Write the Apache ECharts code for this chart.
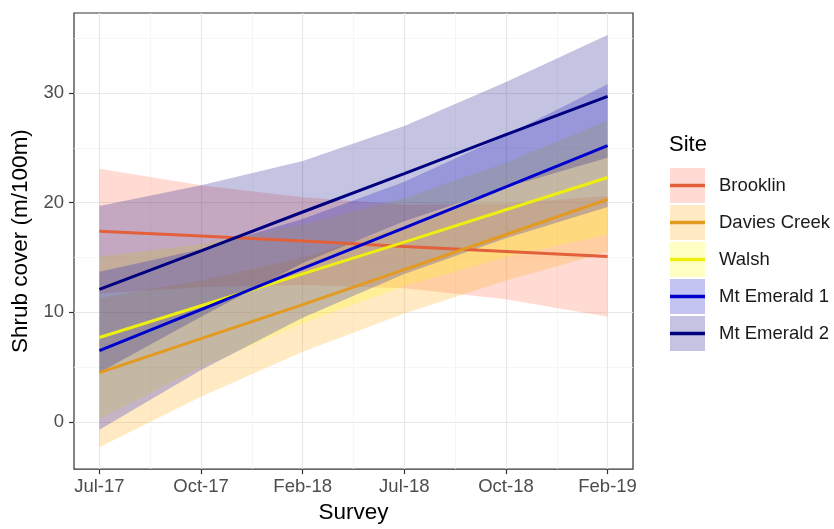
<!DOCTYPE html>
<html>
<head>
<meta charset="utf-8">
<script src="https://cdn.jsdelivr.net/npm/echarts@6/dist/echarts.min.js"></script>
<style>
  html, body { margin: 0; padding: 0; background: #fff; }
  #chart { width: 834px; height: 529px; }
</style>
</head>
<body>
<div id="chart"></div>
<script>
const surveys = ['Jul-17', 'Oct-17', 'Feb-18', 'Jul-18', 'Oct-18', 'Feb-19'];
const surveyX = [1, 2, 3, 4, 5, 6];
const xMinor = [1.5, 2.5, 3.5, 4.5, 5.5];
const yMajor = [0, 10, 20, 30];
const yMinor = [5, 15, 25, 35];

const sites = ['Brooklin', 'Davies Creek', 'Walsh', 'Mt Emerald 1', 'Mt Emerald 2'];
const lineColors = ['#e2603a', '#e39a20', '#eeee10', '#0000cd', '#000080'];
const bandColors = [
  'rgba(255,99,71,0.23)',
  'rgba(255,165,0,0.23)',
  'rgba(255,255,0,0.23)',
  'rgba(0,0,205,0.23)',
  'rgba(0,0,128,0.23)',
];

// fitted shrub cover and confidence band per site
const brooklinFit = [17.4, 16.95, 16.5, 16.0, 15.55, 15.1];
const brooklinLow = [11.7, 12.3, 12.5, 12.2, 11.2, 9.6];
const brooklinHigh = [23.1, 21.6, 20.5, 19.8, 19.9, 20.6];

const daviesFit = [4.5, 7.6, 10.7, 13.9, 17.1, 20.3];
const daviesLow = [-2.3, 2.3, 6.4, 9.9, 12.9, 15.5];
const daviesHigh = [11.3, 12.9, 15.0, 17.9, 21.3, 25.1];

const walshFit = [7.7, 10.6, 13.5, 16.4, 19.35, 22.3];
const walshLow = [0.3, 5.0, 9.0, 12.4, 15.05, 17.1];
const walshHigh = [15.1, 16.2, 18.0, 20.4, 23.65, 27.5];

const emerald1Fit = [6.5, 10.25, 14.0, 17.7, 21.45, 25.2];
const emerald1Low = [-0.7, 4.75, 9.5, 13.5, 16.75, 19.6];
const emerald1High = [13.7, 15.75, 18.5, 21.9, 26.15, 30.8];

const emerald2Fit = [12.1, 15.6, 19.15, 22.65, 26.2, 29.7];
const emerald2Low = [4.5, 9.6, 14.5, 18.3, 21.4, 24.1];
const emerald2High = [19.7, 21.6, 23.8, 27.0, 31.0, 35.3];

const fits = [brooklinFit, daviesFit, walshFit, emerald1Fit, emerald2Fit];
const lows = [brooklinLow, daviesLow, walshLow, emerald1Low, emerald2Low];
const highs = [brooklinHigh, daviesHigh, walshHigh, emerald1High, emerald2High];

const font = 'Liberation Sans, Arial, Helvetica, sans-serif';

// one ribbon polygon per site, drawn from the first data item
const ribbon = (fill) => (params, api) => {
  if (params.dataIndexInside !== 0) return null;
  const top = [];
  const bottom = [];
  for (let j = 0; j < params.dataInsideLength; j++) {
    top.push(api.coord([api.value(0, j), api.value(2, j)]));
    bottom.unshift(api.coord([api.value(0, j), api.value(1, j)]));
  }
  return { type: 'polygon', shape: { points: top.concat(bottom) }, style: { fill } };
};

const series = [];
sites.forEach((site, i) => {
  series.push({
    name: site + ' band',
    type: 'custom',
    silent: true,
    data: surveyX.map((x, j) => [x, lows[i][j], highs[i][j]]),
    encode: { x: 0, y: [1, 2] },
    renderItem: ribbon(bandColors[i]),
  });
  series.push({
    name: site,
    type: 'line',
    symbol: 'none',
    silent: true,
    color: lineColors[i],
    lineStyle: { color: lineColors[i], width: 3 },
    data: surveyX.map((x, j) => [x, fits[i][j]]),
  });
});

const legendBase = {
  orient: 'vertical',
  left: 670,
  top: 168,
  padding: 0,
  itemWidth: 35,
  itemHeight: 35,
  itemGap: 2,
  selectedMode: false,
  itemStyle: { borderWidth: 0 },
};

const chart = echarts.init(document.getElementById('chart'));
chart.setOption({
  animation: false,
  title: {
    text: 'Site',
    left: 669,
    top: 134,
    padding: 0,
    textStyle: { fontFamily: font, fontSize: 22, fontWeight: 'normal', color: '#000' },
  },
  legend: [
    {
      ...legendBase,
      icon: 'rect',
      textStyle: { fontFamily: font, fontSize: 18.5, color: '#1a1a1a', padding: [0, 0, 0, 9] },
      data: sites.map((s, i) => ({ name: s, itemStyle: { color: bandColors[i], borderWidth: 0 } })),
    },
    {
      ...legendBase,
      icon: 'path://M0,0H35V3.6H0Z',
      textStyle: { fontFamily: font, fontSize: 18.5, lineHeight: 35, color: 'rgba(0,0,0,0)', padding: [0, 0, 0, 9] },
      data: sites.map((s, i) => ({ name: s, itemStyle: { color: lineColors[i], borderWidth: 0 } })),
    },
  ],
  grid: {
    left: 74,
    right: 201,
    top: 13,
    bottom: 54,
    show: true,
    borderColor: '#333',
    borderWidth: 1.2,
  },
  xAxis: [
    {
      type: 'value',
      min: 0.75,
      max: 6.25,
      name: 'Survey',
      nameLocation: 'middle',
      nameGap: 23,
      nameTextStyle: { fontFamily: font, fontSize: 22.5, color: '#000' },
      axisLine: { show: false, onZero: false },
      axisTick: { show: true, length: 5, customValues: surveyX, lineStyle: { color: '#333', width: 1.2 } },
      axisLabel: {
        customValues: surveyX,
        formatter: (v) => surveys[surveyX.indexOf(v)],
        fontFamily: font,
        fontSize: 18.5,
        color: '#4d4d4d',
        margin: 8,
      },
      splitLine: { show: true, lineStyle: { color: '#e8e8e8', width: 1.2 } },
    },
    {
      type: 'value',
      min: 0.75,
      max: 6.25,
      position: 'bottom',
      axisLine: { show: false, onZero: false },
      axisTick: { show: false, customValues: xMinor },
      axisLabel: { show: false },
      splitLine: { show: true, lineStyle: { color: '#f4f4f4', width: 0.8 } },
    },
  ],
  yAxis: [
    {
      type: 'value',
      min: -4.3,
      max: 37.3,
      name: 'Shrub cover (m/100m)',
      nameLocation: 'middle',
      nameGap: 36,
      nameTextStyle: { fontFamily: font, fontSize: 22.5, color: '#000' },
      axisLine: { show: false, onZero: false },
      axisTick: { show: true, length: 5, customValues: yMajor, lineStyle: { color: '#333', width: 1.2 } },
      axisLabel: { customValues: yMajor, fontFamily: font, fontSize: 18.5, color: '#4d4d4d', margin: 10 },
      splitLine: { show: true, lineStyle: { color: '#e8e8e8', width: 1.2 } },
    },
    {
      type: 'value',
      min: -4.3,
      max: 37.3,
      position: 'left',
      axisLine: { show: false, onZero: false },
      axisTick: { show: false, customValues: yMinor },
      axisLabel: { show: false },
      splitLine: { show: true, lineStyle: { color: '#f4f4f4', width: 0.8 } },
    },
  ],
  series,
});
</script>
</body>
</html>
